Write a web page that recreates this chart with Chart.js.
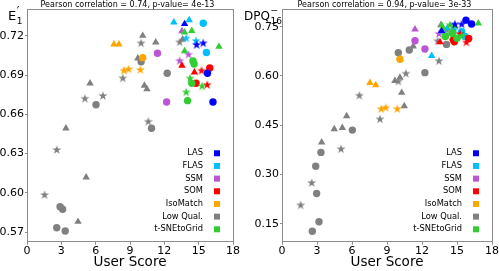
<!DOCTYPE html>
<html><head><meta charset="utf-8">
<script src="https://cdn.jsdelivr.net/npm/chart.js@4/dist/chart.umd.min.js"></script>
<style>html,body{margin:0;padding:0;background:#fff;overflow:hidden}
#l{position:absolute;left:0;top:0}#r{position:absolute;left:240px;top:0}</style>
</head><body>
<canvas id="l" width="240" height="271"></canvas>
<canvas id="r" width="259" height="271"></canvas>
<script>
// ---- data ----
const methods = ['LAS','FLAS','SSM','SOM','IsoMatch','Low Qual.','t-SNEtoGrid'];
const colors  = ['#0000ff','#00bfff','#ba55d3','#ff0000','#ffa500','#808080','#32cd32'];
const xTicks = [0,3,6,9,12,15,18];
const eTicks = [0.57,0.60,0.63,0.66,0.69,0.72];
const dpqTicks = [0.15,0.30,0.45,0.60,0.75];

// [marker, user score, metric]
const lasE = [['^',13.77,0.7292],['*',14.82,0.7131],['*',15.4,0.7144],['o',15.77,0.6915],['o',16.25,0.6695]];
const flasE = [['^',12.83,0.7305],['^',14.17,0.7322],['o',15.4,0.7297],['o',15.68,0.7074],['*',13.91,0.7182],['*',14.77,0.7162]];
const ssmE = [['o',11.4,0.7068],['o',12.2,0.6695],['*',13.34,0.7009],['*',14.11,0.7057],['^',13.54,0.7238]];
const somE = [['^',13.54,0.6973],['^',14.63,0.6922],['*',15.25,0.6934],['o',15.97,0.6955],['o',14.77,0.6838],['*',15.74,0.6825]];
const isoE = [['^',7.6,0.7136],['^',8.03,0.7136],['o',10.11,0.7034],['*',8.48,0.6934],['*',8.88,0.6945],['*',9.91,0.694]];
const lowE = [['*',1.54,0.5983],['o',2.89,0.5894],['o',3.11,0.5874],['o',2.6,0.5733],['o',3.34,0.5708],['^',4.46,0.5779],['^',5.17,0.6119],['*',2.6,0.6328],['^',3.4,0.6494],['*',5.06,0.672],['o',6.03,0.6674],['*',6.63,0.6741],['^',5.51,0.6838],['*',8.37,0.6876],['*',10.6,0.6544],['o',10.88,0.6494],['^',10.26,0.682],['^',10.48,0.6794],['^',9.68,0.7029],['o',9.97,0.7003],['^',10.11,0.7202],['*',9.97,0.7144],['^',11.25,0.7152],['o',12.25,0.6915],['*',13.34,0.7152],['^',13.6,0.7175]];
const tsneE = [['^',14.4,0.724],['^',13.77,0.7228],['^',16.77,0.7118],['^',13.77,0.7085],['o',14.5,0.7008],['o',14.6,0.6985],['*',14.25,0.6876],['o',14.4,0.6838],['*',13.91,0.6769],['o',14.03,0.6705],['*',15.3,0.6815]];

const lasD = [['^',13.68,0.737],['*',14.82,0.757],['*',15.4,0.757],['o',15.77,0.770],['o',16.25,0.758]];
const flasD = [['^',12.83,0.661],['^',14.17,0.745],['o',15.4,0.735],['o',15.68,0.72],['*',13.91,0.725],['*',14.77,0.741]];
const ssmD = [['^',11.4,0.742],['o',11.4,0.707],['o',12.25,0.682],['^',13.62,0.755],['*',13.45,0.728],['*',14.11,0.740]];
const somD = [['^',13.54,0.703],['o',14.7,0.709],['o',14.77,0.704],['*',15.25,0.728],['*',15.8,0.702],['o',16.0,0.714],['^',14.63,0.715]];
const isoD = [['^',7.54,0.579],['^',8.03,0.572],['*',8.5,0.499],['*',8.89,0.503],['*',9.88,0.499],['o',10.11,0.651]];
const lowD = [['o',2.6,0.127],['o',3.17,0.156],['*',1.6,0.206],['o',2.97,0.242],['*',2.55,0.274],['o',2.89,0.325],['o',3.34,0.367],['^',3.4,0.398],['*',5.06,0.377],['^',4.48,0.438],['^',5.17,0.442],['o',6.03,0.435],['^',5.54,0.478],['*',6.63,0.540],['*',8.4,0.468],['^',10.26,0.549],['^',10.48,0.508],['^',9.68,0.585],['*',9.97,0.583],['^',10.11,0.595],['*',10.62,0.607],['o',12.25,0.610],['*',13.45,0.645],['o',9.97,0.671],['o',10.91,0.679],['^',11.25,0.690],['o',14.1,0.696],['*',13.34,0.706]];
const tsneD = [['^',16.83,0.760],['^',13.68,0.755],['*',14.4,0.755],['^',14.8,0.752],['*',14.1,0.725],['*',14.5,0.735],['o',14.6,0.73],['o',14.0,0.72],['^',13.77,0.745],['o',15.0,0.715],['*',15.4,0.722]];

const leftSets = [lasE, flasE, ssmE, somE, isoE, lowE, tsneE];
const rightSets = [lasD, flasD, ssmD, somD, isoD, lowD, tsneD];

// ---- helpers ----
function makeStar(color, R) {
  const size = Math.ceil(2 * R + 2);
  const c = document.createElement('canvas');
  c.width = c.height = size;
  const g = c.getContext('2d');
  g.fillStyle = color; g.beginPath();
  const cx = size / 2, cy = size / 2, r = R * 0.381966;
  for (let i = 0; i < 10; i++) {
    const a = -Math.PI / 2 + i * Math.PI / 5, rr = i % 2 ? r : R;
    g.lineTo(cx + rr * Math.cos(a), cy + rr * Math.sin(a));
  }
  g.closePath(); g.fill();
  return c;
}
const stars = colors.map(c => makeStar(c, 4.8));

function datasets(sets) {
  // draw order: first dataset is drawn on top
  const order = [0, 6, 3, 1, 2, 4, 5];
  return order.map(i => ({
    label: methods[i],
    data: sets[i].map(p => ({x: p[1], y: p[2]})),
    backgroundColor: colors[i],
    borderWidth: 0,
    pointStyle: sets[i].map(p => p[0] === '*' ? stars[i] : (p[0] === '^' ? 'triangle' : 'circle')),
    pointRadius: sets[i].map(p => p[0] === '^' ? 4.3 : (p[0] === 'o' ? 3.7 : 4.8)),
    pointHoverRadius: 4
  }));
}

const FONT = 'DejaVu Sans';
const decor = {
  id: 'decor',
  afterDraw(chart, args, o) {
    const ctx = chart.ctx, a = chart.chartArea;
    ctx.save();
    ctx.strokeStyle = '#8c8c8c'; ctx.lineWidth = 1;
    ctx.strokeRect(Math.round(a.left) + 0.5, Math.round(a.top) + 0.5, Math.round(a.right - a.left), Math.round(a.bottom - a.top));
    // title
    ctx.fillStyle = '#000';
    ctx.font = '8px "' + FONT + '"';
    ctx.textAlign = 'center'; ctx.textBaseline = 'middle';
    ctx.fillText(o.title, (a.left + a.right) / 2 - 2.5, 4.5);
    // y label with sub/superscript
    ctx.textAlign = 'left'; ctx.textBaseline = 'alphabetic';
    ctx.font = o.ySize + 'px "' + FONT + '"';
    ctx.fillText(o.yMain, o.yX, 20);
    const w = ctx.measureText(o.yMain).width;
    ctx.font = o.supSize + 'px "' + FONT + '"';
    ctx.fillText(o.ySup, o.yX + w + 0.5, o.supY);
    ctx.font = '9px "' + FONT + '"';
    ctx.fillText(o.ySub, o.yX + w + 0.5, 23.5);
    // legend
    ctx.font = '8.3px "' + FONT + '"';
    ctx.textAlign = 'right'; ctx.textBaseline = 'middle';
    for (let i = 0; i < methods.length; i++) {
      const y = a.bottom - 12.4 - (methods.length - 1 - i) * 12.67;
      ctx.fillStyle = '#000';
      ctx.fillText(methods[i], a.right - 30, y);
      ctx.fillStyle = colors[i];
      ctx.fillRect(a.right - 19, y - 3, 6, 6);
    }
    ctx.restore();
  }
};

function makeChart(id, sets, yMin, yMax, yTicks, yWidth, padRight, opts) {
  return new Chart(document.getElementById(id), {
    type: 'scatter',
    data: {datasets: datasets(sets)},
    plugins: [decor],
    options: {
      responsive: false, animation: false,
      layout: {padding: {left: 0, right: padRight, top: 9.3, bottom: 0}},
      plugins: {legend: {display: false}, tooltip: {enabled: false}, decor: opts},
      scales: {
        x: {
          type: 'linear', min: 0, max: 18,
          afterBuildTicks: s => { s.ticks = xTicks.map(v => ({value: v})); },
          afterFit: s => { s.height = 29.3; },
          grid: {drawOnChartArea: false, drawTicks: true, tickLength: 3, color: '#8c8c8c'},
          border: {display: false},
          ticks: {font: {family: FONT, size: 11}, color: '#000', padding: 0, maxRotation: 0, autoSkip: false},
          title: {display: true, text: 'User Score', color: '#000', font: {family: FONT, size: 13.5, lineHeight: 1}, padding: {top: 0, bottom: 2}}
        },
        y: {
          type: 'linear', min: yMin, max: yMax,
          afterBuildTicks: s => { s.ticks = yTicks.map(v => ({value: v})); },
          afterFit: s => { s.width = yWidth; },
          grid: {drawOnChartArea: false, drawTicks: true, tickLength: 2, color: '#8c8c8c'},
          border: {display: false},
          ticks: {font: {family: FONT, size: 11}, color: '#000', padding: 1, autoSkip: false, callback: v => Number(v).toFixed(2)}
        }
      }
    }
  });
}

makeChart('l', leftSets, 0.5626, 0.7404, eTicks, 27, 4, {
  title: 'Pearson correlation = 0.74, p-value= 4e-13', yMain: 'E', ySup: '\u2032', ySub: '1', yX: 8, ySize: 13, supSize: 12, supY: 15
});
makeChart('r', rightSets, 0.095, 0.803, dpqTicks, 42, 7, {
  title: 'Pearson correlation = 0.94, p-value= 3e-33', yMain: 'DPQ', ySup: '\u2212', ySub: '16', yX: 4, ySize: 12, supSize: 9, supY: 13
});
</script></body></html>
